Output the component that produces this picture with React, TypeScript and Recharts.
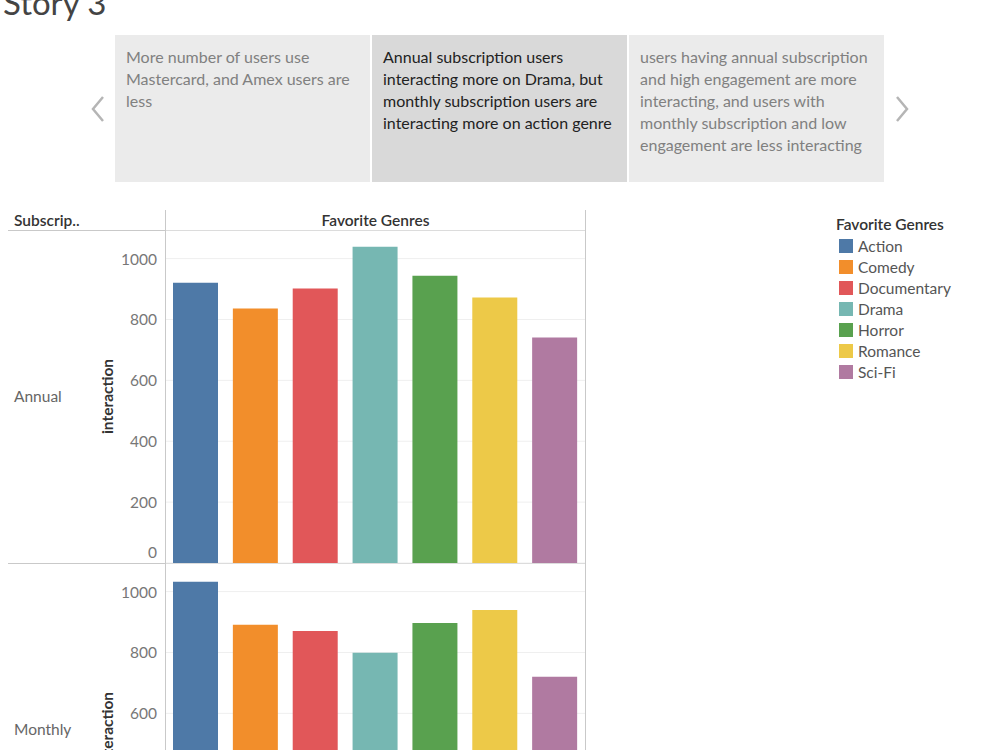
import { Bar, BarChart, CartesianGrid, Cell, XAxis, YAxis } from "recharts";

const genres = ["Action", "Comedy", "Documentary", "Drama", "Horror", "Romance", "Sci-Fi"];
const genreColors = ["#4e79a7", "#f28e2b", "#e15759", "#76b7b2", "#59a14f", "#edc948", "#b07aa1"];
const annualInteraction = [921, 836, 902, 1039, 944, 872, 741];
const monthlyInteraction = [1032, 891, 871, 799, 897, 940, 720];
const yTicks = [0, 200, 400, 600, 800, 1000];
const storyPoints = [
  "More number of users use Mastercard, and Amex users are less",
  "Annual subscription users interacting more on Drama, but monthly subscription users are interacting more on action genre",
  "users having annual subscription and high engagement are more interacting, and users with monthly subscription and low engagement are less interacting",
];

const FONT = "Lato, 'Noto Sans', sans-serif";
const LINE = "#c9c9c9";

const AxisTitle = (props: any) => {
  const { viewBox } = props;
  const cx = viewBox.x + 11;
  const cy = viewBox.y + viewBox.height / 2;
  return (
    <text
      x={cx}
      y={cy}
      transform={`rotate(-90 ${cx} ${cy})`}
      textAnchor="middle"
      dominantBaseline="central"
      fill="#333"
      fontSize={15.5}
      fontWeight={700}
      fontFamily={FONT}
    >
      interaction
    </text>
  );
};

const TickLabel = (props: any) => {
  const { x, y, payload } = props;
  const shift = payload.value === 0 ? -11 : 0;
  return (
    <text
      x={x - 1}
      y={y + shift}
      textAnchor="end"
      dominantBaseline="central"
      fill="#777"
      fontSize={15.5}
      fontFamily={FONT}
    >
      {payload.value}
    </text>
  );
};

function GenrePanel({ values }: { values: number[] }) {
  const data = genres.map((g, i) => ({ genre: g, interaction: values[i] }));
  return (
    <BarChart width={489} height={333} data={data} margin={{ top: 0, right: 0, bottom: 0, left: 0 }}>
      <CartesianGrid vertical={false} stroke="#efefef" />
      <XAxis dataKey="genre" hide />
      <YAxis
        width={70}
        domain={[0, 1094]}
        ticks={yTicks}
        interval={0}
        axisLine={false}
        tickLine={false}
        tick={<TickLabel />}
        label={<AxisTitle />}
      />
      <Bar dataKey="interaction" barSize={45} isAnimationActive={false}>
        {data.map((d, i) => (
          <Cell key={d.genre} fill={genreColors[i]} />
        ))}
      </Bar>
    </BarChart>
  );
}

export default function App() {
  return (
    <div
      style={{
        position: "absolute",
        left: 0,
        top: 0,
        width: 1000,
        height: 750,
        overflow: "hidden",
        background: "#fff",
        fontFamily: FONT,
      }}
    >
      <div style={{ position: "absolute", left: 3, top: -19, fontSize: 33, color: "#444", lineHeight: "42px" }}>
        Story 3
      </div>

      <svg style={{ position: "absolute", left: 88, top: 94 }} width={20} height={30}>
        <polyline points="15,3 5,15 15,27" fill="none" stroke="#b5b5b5" strokeWidth={2.5} />
      </svg>
      <svg style={{ position: "absolute", left: 892, top: 94 }} width={20} height={30}>
        <polyline points="5,3 15,15 5,27" fill="none" stroke="#b5b5b5" strokeWidth={2.5} />
      </svg>

      {storyPoints.map((t, i) => (
        <div
          key={i}
          style={{
            position: "absolute",
            left: 115 + i * 257,
            top: 35,
            width: 255,
            height: 147,
            boxSizing: "border-box",
            padding: "11px 8px 0 11px",
            background: i === 1 ? "#d9d9d9" : "#ebebeb",
            color: i === 1 ? "#222" : "#808080",
            fontSize: 16,
            lineHeight: "22px",
          }}
        >
          {t}
        </div>
      ))}

      {/* table frame */}
      <div style={{ position: "absolute", left: 8, top: 230, width: 577, height: 1, background: LINE }} />
      <div style={{ position: "absolute", left: 8, top: 563, width: 577, height: 1, background: LINE }} />
      <div style={{ position: "absolute", left: 165, top: 210, width: 1, height: 540, background: LINE }} />
      <div style={{ position: "absolute", left: 585, top: 210, width: 1, height: 540, background: LINE }} />

      <div style={{ position: "absolute", left: 14, top: 210, fontSize: 15.5, fontWeight: 600, color: "#333", lineHeight: "20px" }}>
        Subscrip..
      </div>
      <div
        style={{
          position: "absolute",
          left: 166,
          top: 210,
          width: 419,
          textAlign: "center",
          fontSize: 15.5,
          fontWeight: 600,
          color: "#333",
          lineHeight: "20px",
        }}
      >
        Favorite Genres
      </div>

      <div style={{ position: "absolute", left: 14, top: 386, fontSize: 15.5, color: "#666", lineHeight: "20px" }}>Annual</div>
      <div style={{ position: "absolute", left: 14, top: 719, fontSize: 15.5, color: "#666", lineHeight: "20px" }}>Monthly</div>

      <div style={{ position: "absolute", left: 96, top: 230 }}>
        <GenrePanel values={annualInteraction} />
      </div>
      <div style={{ position: "absolute", left: 96, top: 563 }}>
        <GenrePanel values={monthlyInteraction} />
      </div>

      {/* legend */}
      <div style={{ position: "absolute", left: 836, top: 214 }}>
        <div style={{ fontSize: 15.5, fontWeight: 600, color: "#333", lineHeight: "21px" }}>Favorite Genres</div>
        {genres.map((g, i) => (
          <div key={g} style={{ display: "flex", alignItems: "center", height: 21 }}>
            <div style={{ width: 14, height: 14, background: genreColors[i], marginLeft: 3, marginRight: 5 }} />
            <span style={{ fontSize: 15.5, color: "#555" }}>{g}</span>
          </div>
        ))}
      </div>
    </div>
  );
}
